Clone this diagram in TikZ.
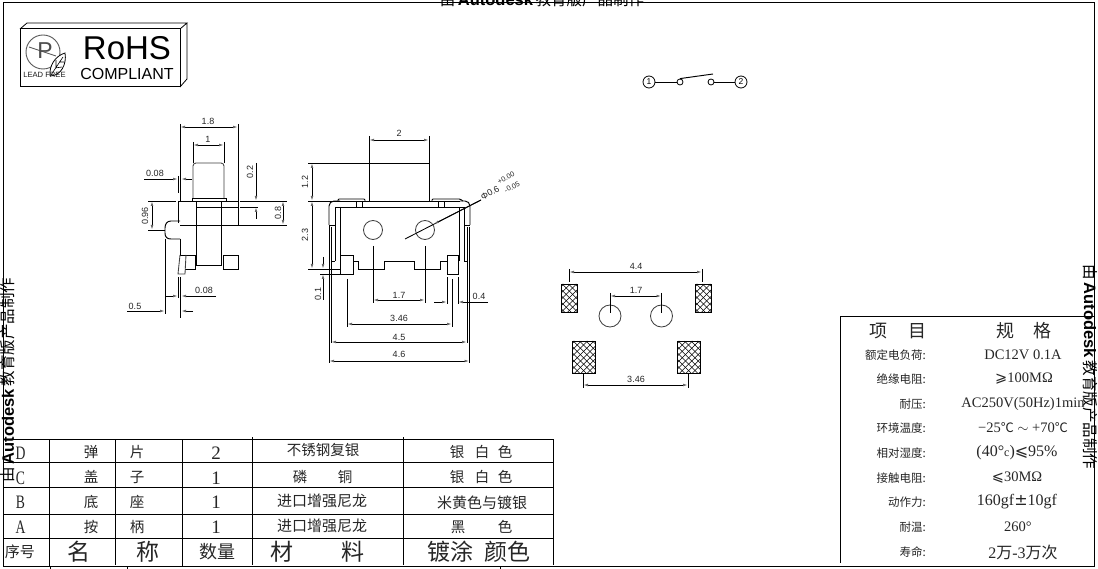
\documentclass[tikz,border=0pt]{standalone}
\usepackage{fontspec}
\usepackage{graphicx}
\setmainfont{Liberation Serif}
\setsansfont{Liberation Sans}
\newfontfamily\cjk{Noto Sans CJK SC}
\newfontfamily\dvs{DejaVu Sans}
\usetikzlibrary{arrows.meta}
\newcommand{\fz}[1]{\fontsize{#1}{#1}\selectfont}
\newcommand{\hatchbox}[4]{%
  \begin{scope}
    \clip (#1,#2) rectangle (#3,#4);
    \foreach \k in {0,...,22}{
      \draw[hatchline] ({#1-50+6.4*\k},#2) -- ++(50,50);
      \draw[hatchline] ({#1-10+6.4*\k},#2) -- ++(-50,50);
    }
  \end{scope}
  \draw[part] (#1,#2) rectangle (#3,#4);}
\tikzset{
  part/.style={draw=black,line width=0.95pt},
  thinpart/.style={draw=black!75,line width=0.85pt},
  extline/.style={draw=black,line width=0.85pt},
  dimline/.style={draw=black,line width=0.85pt,{Latex[length=5pt,width=2.6pt,color=black!60]}-{Latex[length=5pt,width=2.6pt,color=black!60]}},
  dimto/.style={draw=black,line width=0.85pt,-{Latex[length=5pt,width=2.6pt,color=black!60]}},
  dimtext/.style={font=\sffamily\fz{9},text=black!85,inner sep=0pt},
  hatchline/.style={draw=black,line width=0.55pt},
  rule/.style={draw=black,line width=1pt},
  cell/.style={font=\cjk\fz{14.5},inner sep=0pt,text=black!85},
  headcell/.style={font=\cjk\fz{23},inner sep=0pt,text=black!85},
  letter/.style={font=\rmfamily\fz{19},inner sep=0pt,text=black!85},
  speclabel/.style={font=\cjk\fz{11.5},inner sep=0pt,anchor=east,text=black!85},
  specvalue/.style={font=\rmfamily\fz{14.5},inner sep=0pt,text=black!85},
  specwide/.style={font=\rmfamily\fz{16},inner sep=0pt,text=black!85},
  water/.style={inner sep=0pt,text=black},
}
\newcommand{\wm}{{\cjk\fz{15.5}由} {\sffamily\bfseries\fz{16.5}Autodesk} {\cjk\fz{15.5}教育版产品制作}}
\newcommand{\nar}[1]{\scalebox{0.72}[1]{#1}}
\begin{document}
\begin{tikzpicture}[x=1pt,y=-1pt]
\useasboundingbox (0,0) rectangle (1098,569);
\clip (0,0) rectangle (1098,569);
\fill[white] (0,0) rectangle (1098,569);

% frame
\draw[rule] (3,3) rectangle (1094,566);
\draw[rule] (50,566) -- (50,569) (127,566) -- (127,569) (500,566) -- (500,569);

% watermarks
\node[water] (wmtop) at (542,0) {\wm};
\node[water,rotate=-90] (wmright) at (1090,367) {\wm};
\node[water,rotate=90] (wmleft) at (8,380) {\wm};

% logo
\draw[line width=1pt] (20,29) rectangle (180,87);
\draw[line width=0.8pt] (20,29) -- (27,23) -- (187,23) -- (180,29) (187,23) -- (187,79) -- (180,87);
\draw[line width=0.9pt,black!65] (43,52) circle[radius=17pt];
\draw[line width=0.8pt,black!65] (29,47) -- (56,56);
\node[font=\sffamily\fz{23},text=black!70,inner sep=0pt] (leadp) at (45,51) {P};
\draw[line width=0.8pt,fill=white] (50,76) .. controls (49,66) and (55,56) .. (65,53) .. controls (67,64) and (61,76) .. (50,76);
\draw[line width=0.6pt] (51,75) -- (63,57) (55,68) -- (62,67) (56,67) -- (56,60) (59,62) -- (64,62);
\node[font=\sffamily\fz{7.6},inner sep=0pt,text=black!90] (leadfree) at (44.5,75) {LEAD FREE};
\node[font=\sffamily\fz{33},inner sep=0pt] (rohs) at (127,48) {RoHS};
\node[font=\sffamily\fz{16},inner sep=0pt] (comp) at (127,74) {COMPLIANT};

% schematic
\node[draw,circle,minimum size=12pt,inner sep=0pt,font=\sffamily\fz{8.5},line width=0.8pt] (t1) at (649,82) {1};
\node[draw,circle,minimum size=12pt,inner sep=0pt,font=\sffamily\fz{8.5},line width=0.8pt] (t2) at (741,82) {2};
\node[draw,circle,minimum size=6pt,inner sep=0pt,line width=0.8pt] (c1) at (680,82) {};
\node[draw,circle,minimum size=6pt,inner sep=0pt,line width=0.8pt] (c2) at (711,82) {};
\coordinate (levertip) at (713,74);
\draw[part] (t1) -- (c1);
\draw[part] (c2) -- (t2);
\draw[part] (c1.north) -- (levertip);

% side view
\draw[thinpart,rounded corners=3pt] (193,198) -- (193,163) -- (224,163) -- (224,198);
\draw[part] (192,201) -- (192,198) -- (226,198) -- (226,201);
\draw[part] (148,201) -- (176,201) (178,201) -- (238,201) (240,201) -- (287,201);
\draw[part] (180,225) -- (287,225);
\draw[part] (196,201) -- (196,265) -- (221,265) -- (221,201);
\draw[part] (196,207) -- (238,207) (240,207) -- (258,207);
\draw[part] (238,201) -- (238,225);
\draw[part] (223,255) rectangle (238,269);
\draw[part] (180,255) -- (195,255) -- (195,269) -- (185,269);
\draw[thinpart] (180,255) -- (178,274) -- (185,274) -- (186,255);
\draw[part] (180,239) -- (180,255);
\draw[part] (180,221) -- (171,221) .. controls (167,221) and (165,224) .. (165,228) -- (165,233) .. controls (165,237) and (167,239) .. (171,239) -- (180,239);
\draw[extline] (165,239) -- (165,314);
\draw[extline] (180,124) -- (180,201) (238,124) -- (238,201);
\draw[extline] (178.5,176) -- (178.5,193) (178.5,201) -- (178.5,223) (178.5,277) -- (178.5,298);
\draw[extline] (180.5,277) -- (180.5,318);
\draw[extline] (193,142) -- (193,163) (224,142) -- (224,163);
\draw[dimline] (193,145) -- (224,145);
\draw[dimline] (180,127) -- (238,127);
\node[dimtext] (s18) at (208,121) {1.8};
\node[dimtext] (s1) at (208,139) {1};
\draw[dimto] (144,179) -- (178,179);
\draw[dimto] (192,179) -- (181,179);
\node[dimtext] (s008a) at (155,173) {0.08};
\draw[dimline] (283,201) -- (283,225);
\node[dimtext,rotate=90] (s08) at (278,213) {0.8};
\draw[dimto] (256,163) -- (256,201);
\draw[dimto] (256,219) -- (256,207);
\node[dimtext,rotate=90] (s02) at (250,172) {0.2};
\draw[dimline] (152,201) -- (152,230);
\draw[extline] (148,230) -- (165,230);
\node[dimtext,rotate=90] (s096) at (145,216) {0.96};
\draw[dimto] (166,296) -- (178,296);
\draw[dimto] (216,296) -- (181,296);
\node[dimtext] (s008b) at (204,290) {0.08};
\draw[dimto] (127,311) -- (165,311);
\draw[dimto] (193,311) -- (181,311);
\node[dimtext] (s05) at (135,306) {0.5};

% front view
\draw[part] (369,201) -- (369,163) -- (429,163) -- (429,201);
\draw[part] (308,163) -- (429,163);
\draw[extline] (369,136) -- (369,163) (429,136) -- (429,163);
\draw[dimline] (369,140) -- (429,140);
\node[dimtext] (f2) at (399,133) {2};
\draw[part] (308,201) -- (460,201);
\draw[part,rounded corners=5pt] (329,225) -- (329,201) -- (340,201);
\draw[part,rounded corners=5pt] (460,201) -- (470,201) -- (470,225);
\draw[part] (329,225) -- (335,225) (464,225) -- (470,225);
\draw[part] (335,207) -- (464,207);
\draw[part] (335,207) -- (335,261) (340,207) -- (340,255) (459,207) -- (459,261) (464,207) -- (464,261);
\draw[part] (331,261) -- (335,261) (464,261) -- (468,261);
\draw[part,rounded corners=1pt] (338,201) -- (338,199) -- (365,199) -- (365,201);
\draw[part,rounded corners=1pt] (432,201) -- (432,199) -- (460,199) -- (463,201);
\draw[part] (356,201) -- (356,207) (362,201) -- (362,207) (438,201) -- (438,207) (444,201) -- (444,207);
\draw[part] (340,255) rectangle (353,274);
\draw[part] (447,255) rectangle (458,274);
\draw[part] (353,261) -- (358,261) -- (358,269) -- (384,269) -- (384,261) -- (414,261) -- (414,269) -- (440,269) -- (440,261) -- (447,261);
\draw[thinpart] (373,230) circle[radius=9.5pt] (425,230) circle[radius=9.5pt];
% front dims
\draw[dimline] (312,163) -- (312,201);
\draw[dimline] (312,201) -- (312,269);
\node[dimtext,rotate=90] (f12) at (305,182) {1.2};
\node[dimtext,rotate=90] (f23) at (305,235) {2.3};
\draw[extline] (308,269) -- (340,269) (320,274) -- (340,274);
\draw[dimto] (323,257) -- (323,269);
\draw[dimto] (323,300) -- (323,274);
\node[dimtext,rotate=90] (f01) at (318,294) {0.1};
\draw[extline] (373,246) -- (373,303) (425,246) -- (425,303);
\draw[dimline] (373,300) -- (425,300);
\node[dimtext] (f17) at (399,295) {1.7};
\draw[extline] (347,279) -- (347,327) (452,279) -- (452,327);
\draw[dimline] (347,324) -- (452,324);
\node[dimtext] (f346) at (399,318) {3.46};
\draw[extline] (331,227) -- (331,343) (467,227) -- (467,343);
\draw[dimline] (331,342) -- (467,342);
\node[dimtext] (f45) at (399,337) {4.5};
\draw[extline] (329,225) -- (329,363) (469.5,227) -- (469.5,363);
\draw[dimline] (329,361) -- (469.5,361);
\node[dimtext] (f46) at (399,354) {4.6};
\draw[extline] (447,277) -- (447,304) (458,277) -- (458,304);
\draw[dimto] (434,302) -- (447,302);
\draw[dimto] (488,302) -- (458,302);
\node[dimtext] (f04) at (479,296) {0.4};
\coordinate (leaderstart) at (405,239);
\coordinate (leaderend) at (481,200);
\coordinate (leadertip) at (434,224);
\draw[extline] (leaderstart) -- (leaderend);
\draw[dimto] (leaderend) -- (leadertip);
\node[dimtext,rotate=28,font=\sffamily\fz{9}] (fphi) at (490,193) {Φ0.6};
\node[dimtext,rotate=28,font=\sffamily\fz{7.2}] (fup) at (506,178) {+0.00};
\node[dimtext,rotate=28,font=\sffamily\fz{7.2}] (flo) at (512,187) {-0.05};

% footprint
\hatchbox{561}{284}{577}{312}
\hatchbox{695}{284}{711}{312}
\hatchbox{572}{341}{595}{373}
\hatchbox{677}{341}{700}{373}
\draw[thinpart] (610,316) circle[radius=11pt] (661.5,316) circle[radius=11pt];
\draw[extline] (569,269) -- (569,282) (702,269) -- (702,282);
\draw[dimline] (569,272) -- (702,272);
\node[dimtext] (p44) at (636,266) {4.4};
\draw[extline] (610,293) -- (610,313) (661.5,293) -- (661.5,313);
\draw[dimline] (610,296) -- (661.5,296);
\node[dimtext] (p17) at (636,290) {1.7};
\draw[extline] (583,373) -- (583,388) (688,373) -- (688,388);
\draw[dimline] (583,385) -- (688,385);
\node[dimtext] (p346) at (636,379) {3.46};

% parts table
\draw[rule] (3,439) -- (553,439) (3,462) -- (553,462) (3,487) -- (553,487) (3,514) -- (553,514) (3,538) -- (553,538);
\draw[rule] (49.5,439) -- (49.5,566) (115,439) -- (115,565) (182,439) -- (182,566) (252,437) -- (252,565) (403,437) -- (403,565) (553,439) -- (553,565);
\foreach \nm/\ltr/\yy in {a/D/453,b/C/478,c/B/502,d/A/527}{
  \node[letter] (let\nm) at (20.5,\yy) {\nar{\ltr}};
}
\node[cell] (n1) at (91,452) {弹};
\node[cell] (n2) at (137,452) {片};
\node[cell] (n3) at (91,477) {盖};
\node[cell] (n4) at (137,477) {子};
\node[cell] (n5) at (91,502) {底};
\node[cell] (n6) at (137,502) {座};
\node[cell] (n7) at (91,527) {按};
\node[cell] (n8) at (137,527) {柄};
\node[letter] (q1) at (216,453) {2};
\node[letter] (q2) at (216,478) {1};
\node[letter] (q3) at (216,502) {1};
\node[letter] (q4) at (216,527) {1};
\node[cell] (m1) at (323,450) {不锈钢复银};
\node[cell] (m2a) at (300,477) {磷};
\node[cell] (m2b) at (345,477) {铜};
\node[cell,font=\cjk\fz{15}] (m3) at (322,501) {进口增强尼龙};
\node[cell,font=\cjk\fz{15}] (m4) at (322,526) {进口增强尼龙};
\node[cell] (k1a) at (457,452) {银};
\node[cell] (k1b) at (482,452) {白};
\node[cell] (k1c) at (505,452) {色};
\node[cell] (k2a) at (457,477) {银};
\node[cell] (k2b) at (482,477) {白};
\node[cell] (k2c) at (505,477) {色};
\node[cell,font=\cjk\fz{15}] (k3) at (482,503) {米黄色与镀银};
\node[cell] (k4a) at (458,527) {黑};
\node[cell] (k4b) at (505,527) {色};
\node[cell,font=\cjk\fz{15}] (h0) at (20,552) {序号};
\node[headcell] (h1) at (79,552) {名};
\node[headcell] (h2) at (148,552) {称};
\node[cell,font=\cjk\fz{18}] (h3) at (217,552) {数量};
\node[headcell] (h4) at (282,552) {材};
\node[headcell] (h5) at (353,552) {料};
\node[headcell] (h6) at (450,552) {镀涂};
\node[headcell] (h7) at (507,552) {颜色};

% spec table
\draw[rule] (840,563) -- (840,317) -- (1094,317);
\node[cell,font=\cjk\fz{18}] (sh1) at (878,331) {项};
\node[cell,font=\cjk\fz{18}] (sh2) at (917,331) {目};
\node[cell,font=\cjk\fz{18}] (sh3) at (1005,331) {规};
\node[cell,font=\cjk\fz{18}] (sh4) at (1042,331) {格};
\node[speclabel] (l1) at (926,355) {额定电负荷:};
\node[speclabel] (l2) at (926,379) {绝缘电阻:};
\node[speclabel] (l3) at (926,404) {耐压:};
\node[speclabel] (l4) at (926,428) {环境温度:};
\node[speclabel] (l5) at (926,453) {相对湿度:};
\node[speclabel] (l6) at (926,478) {接触电阻:};
\node[speclabel] (l7) at (926,502) {动作力:};
\node[speclabel] (l8) at (926,527) {耐温:};
\node[speclabel] (l9) at (926,552) {寿命:};
\node[specvalue] (v1) at (1023,355) {DC12V 0.1A};
\node[specvalue] (v2) at (1024,379) {{\dvs ⩾}100MΩ};
\node[specvalue] (v3) at (1023,404) {AC250V(50Hz)1min};
\node[specvalue] (v4) at (1023,428) {−25{\cjk\fz{13}℃} $\sim$ +70{\cjk\fz{13}℃}};
\node[specwide] (v5) at (1017,453) {(40°{\fz{12}c}){\dvs ⩽}95\%};
\node[specvalue] (v6) at (1017,478) {{\dvs ⩽}30MΩ};
\node[specwide] (v7) at (1017,502) {160gf{\dvs ±}10gf};
\node[specvalue] (v8) at (1018,527) {260°};
\node[specwide] (v9) at (1023,552) {2{\cjk 万}-3{\cjk 万次}};
\end{tikzpicture}
\end{document}
